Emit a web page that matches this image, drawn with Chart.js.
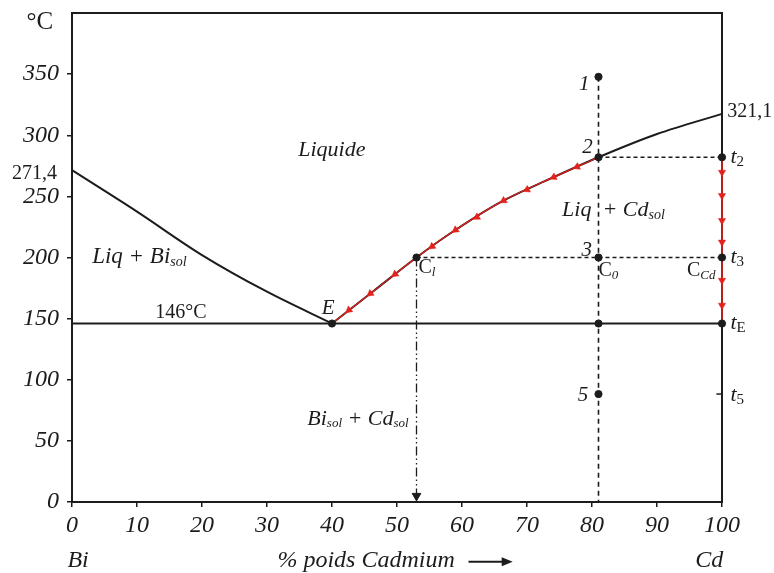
<!DOCTYPE html>
<html><head><meta charset="utf-8">
<script src="https://cdn.jsdelivr.net/npm/chart.js@4/dist/chart.umd.min.js"></script>
<style>html,body{margin:0;padding:0;background:#fff}#wrap{width:774px;height:573px;position:relative}</style>
</head><body><div id="wrap"><canvas id="c"></canvas></div>
<script>
// ---- data (wt% Cd, °C) ----
const xTicks = [0,10,20,30,40,50,60,70,80,90,100];
const yTicks = [0,50,100,150,200,250,300,350];
const leftLiqX = [0,10,20,30,40];
const leftLiqY = [271.4,237.5,202,172,146];
const rightLiqX = [40,46.5,53,58,66,73.6,81,90,100];
const rightLiqY = [146,173,200,219,245.5,264.5,282,301,317.5];
const redPathX = [40,46.5,53,58,66,73.6,81];
const redPathY = [146,173,200,219,245.5,264.5,282];
const eutecticX = [0,100];
const eutecticY = [146,146];
const c0LineX = [81,81];
const c0LineY = [347.8,0];
const t2LineX = [81,100];
const t2LineY = [282,282];
const t3LineX = [53,100];
const t3LineY = [200,200];
const clLineX = [53,53];
const clLineY = [200,0];
const redVertX = [100,100];
const redVertY = [282,146];
const liqArrowX = [77.7,74.1,70.0,66.4,62.3,59.0,55.4,49.7,45.9,42.6];
const liqArrowY = [274.2,265.7,255.5,246.5,233,222.5,209,186.3,170.5,157];
const vertArrowX = [100,100,100,100,100,100];
const vertArrowY = [269.7,250.6,230.2,212.5,181.3,160.9];
const clArrowX = [53];
const clArrowY = [5];
const dotX = [81,81,53,81,100,100,40,81,100,81];
const dotY = [347.8,282,200,200,200,282,146,146,146,88.3];
const t5TickX = [99.6];
const t5TickY = [88.3];

const SERIF = "'Liberation Serif','Times New Roman',serif";
const INK = '#1c1c1c';
const RED = '#e3201b';

const pts = (xs, ys) => xs.map((x, i) => ({x, y: ys[i]}));
function ln(xs, ys, o) {
  return Object.assign({data: pts(xs, ys), showLine: true, pointRadius: 0, borderColor: INK,
    borderWidth: 2, fill: false, clip: false}, o);
}
function arrowRot(ctx) {
  const d = ctx.dataset.data, i = ctx.dataIndex, ch = ctx.chart;
  const xs = ch.scales.x, ys = ch.scales.y;
  let a, b;
  if (i < d.length - 1) { a = d[i]; b = d[i + 1]; } else { a = d[i - 1]; b = d[i]; }
  const dx = xs.getPixelForValue(b.x) - xs.getPixelForValue(a.x);
  const dy = ys.getPixelForValue(b.y) - ys.getPixelForValue(a.y);
  return Math.atan2(dx, -dy) * 180 / Math.PI;
}

const datasets = [
  {data: pts(dotX, dotY), pointRadius: 3.6, pointBackgroundColor: INK, pointBorderColor: INK, showLine: false, order: 0, clip: false},
  {data: pts(liqArrowX, liqArrowY), pointStyle: 'triangle', pointRadius: 4.2, pointBackgroundColor: RED, pointBorderColor: RED, pointBorderWidth: 0.5, pointRotation: arrowRot, showLine: false, order: 1, clip: false},
  {data: pts(vertArrowX, vertArrowY), pointStyle: 'triangle', pointRadius: 4.2, pointBackgroundColor: RED, pointBorderColor: RED, pointBorderWidth: 0.5, pointRotation: 180, showLine: false, order: 1, clip: false},
  {data: pts(clArrowX, clArrowY), pointStyle: 'triangle', pointRadius: 5, pointBackgroundColor: INK, pointBorderColor: INK, pointRotation: 180, showLine: false, order: 1, clip: false},
  {data: pts(t5TickX, t5TickY), pointStyle: 'line', pointRadius: 3, pointBorderColor: INK, pointBorderWidth: 1.5, showLine: false, order: 1, clip: false},
  ln(redPathX, redPathY, {borderColor: RED, borderWidth: 1.2, cubicInterpolationMode: 'monotone', order: 2}),
  ln(redVertX, redVertY, {borderColor: RED, borderWidth: 1.6, order: 2}),
  ln(leftLiqX, leftLiqY, {cubicInterpolationMode: 'monotone', order: 3}),
  ln(rightLiqX, rightLiqY, {cubicInterpolationMode: 'monotone', order: 3}),
  ln(eutecticX, eutecticY, {order: 3}),
  ln(c0LineX, c0LineY, {borderWidth: 1.6, borderDash: [5, 4], order: 4}),
  ln(t2LineX, t2LineY, {borderWidth: 1.4, borderDash: [4, 3], order: 4}),
  ln(t3LineX, t3LineY, {borderWidth: 1.4, borderDash: [4, 3], order: 4}),
  ln(clLineX, clLineY, {borderWidth: 1.3, borderDash: [9, 3, 1.5, 3, 1.5, 3], order: 4})
];

// text: [string, size, italic, subscript]
const labels = [
  {x: -2.9, y: 392, al: 'right', p: [['°C', 25, false]]},
  {x: -2.3, y: 268.6, al: 'right', p: [['271,4', 20, false]]},
  {x: 100.8, y: 319.2, al: 'left', p: [['321,1', 20, false]]},
  {x: 34.8, y: 287.4, al: 'left', p: [['Liquide', 22, true]]},
  {x: 3.1, y: 200.3, al: 'left', p: [['Liq + Bi', 23, true], ['sol', 14, true, true]]},
  {x: 12.8, y: 154.6, al: 'left', p: [['146°C', 20, false]]},
  {x: 39.4, y: 158.2, al: 'center', p: [['E', 21, true]]},
  {x: 53.3, y: 192, al: 'left', p: [['C', 20, false], ['l', 13, true, true]]},
  {x: 78.8, y: 341.3, al: 'center', p: [['1', 21, true]]},
  {x: 79.3, y: 290, al: 'center', p: [['2', 21, true]]},
  {x: 79.2, y: 205.8, al: 'center', p: [['3', 21, true]]},
  {x: 78.6, y: 87.5, al: 'center', p: [['5', 21, true]]},
  {x: 81.0, y: 189.5, al: 'left', p: [['C', 20, false], ['0', 13, true, true]]},
  {x: 99.0, y: 189.5, al: 'right', p: [['C', 20, false], ['Cd', 13, true, true]]},
  {x: 75.4, y: 238.4, al: 'left', p: [['Liq  + Cd', 22, true], ['sol', 14, true, true]]},
  {x: 101.3, y: 282, al: 'left', p: [['t', 22, true], ['2', 15, false, true]]},
  {x: 101.3, y: 200, al: 'left', p: [['t', 22, true], ['3', 15, false, true]]},
  {x: 101.3, y: 146, al: 'left', p: [['t', 22, true], ['E', 15, false, true]]},
  {x: 101.3, y: 87.5, al: 'left', p: [['t', 22, true], ['5', 15, false, true]]},
  {x: 36.2, y: 67.9, al: 'left', p: [['Bi', 22, true], ['sol', 13, true, true], [' + Cd', 22, true], ['sol', 13, true, true]]},
  {x: -0.7, y: -48, al: 'left', p: [['Bi', 24, true]]},
  {x: 31.6, y: -48, al: 'left', p: [['% poids Cadmium', 24, true]]},
  {x: 100.2, y: -48, al: 'right', p: [['Cd', 24, true]]}
];

function fontOf(part) { return (part[2] ? 'italic ' : '') + part[1] + 'px ' + SERIF; }

const textPlugin = {
  id: 'texts',
  afterDraw(chart) {
    const ctx = chart.ctx, xs = chart.scales.x, ys = chart.scales.y;
    ctx.save();
    ctx.fillStyle = INK;
    ctx.textBaseline = 'middle';
    ctx.textAlign = 'left';
    labels.forEach(l => {
      let w = 0;
      l.p.forEach(part => { ctx.font = fontOf(part); w += ctx.measureText(part[0]).width; });
      let px = xs.getPixelForValue(l.x), py = ys.getPixelForValue(l.y);
      if (l.al === 'right') px -= w; else if (l.al === 'center') px -= w / 2;
      l.p.forEach(part => {
        ctx.font = fontOf(part);
        ctx.fillText(part[0], px, part[3] ? py + 5 : py);
        px += ctx.measureText(part[0]).width;
      });
    });
    // axis-title arrow
    const ax0 = xs.getPixelForValue(61), ax1 = xs.getPixelForValue(67.8), ay = ys.getPixelForValue(-48) + 1;
    ctx.strokeStyle = INK; ctx.lineWidth = 2;
    ctx.beginPath(); ctx.moveTo(ax0, ay); ctx.lineTo(ax1 - 8, ay); ctx.stroke();
    ctx.beginPath(); ctx.moveTo(ax1, ay); ctx.lineTo(ax1 - 11, ay - 4.5); ctx.lineTo(ax1 - 11, ay + 4.5); ctx.closePath(); ctx.fill();
    ctx.restore();
  }
};

const zeroPad = s => { s.paddingTop = 0; s.paddingBottom = 0; s.paddingLeft = 0; s.paddingRight = 0; };
const tickFont = {family: SERIF, size: 24, style: 'italic'};
new Chart(document.getElementById('c'), {
  type: 'scatter',
  data: {datasets},
  options: {
    responsive: true, maintainAspectRatio: false, animation: false,
    layout: {padding: {top: 13, right: 52, bottom: 35, left: 0}},
    plugins: {legend: {display: false}, tooltip: {enabled: false}},
    scales: {
      x: {type: 'linear', position: 'bottom', min: 0, max: 100,
        afterBuildTicks: s => { s.ticks = xTicks.map(v => ({value: v})); },
        afterFit: s => { s.height = 36; zeroPad(s); },
        ticks: {font: tickFont, color: INK, padding: 4, maxRotation: 0, autoSkip: false},
        grid: {display: true, drawOnChartArea: false, drawTicks: true, tickLength: 5, color: INK, lineWidth: 1.5},
        border: {display: true, color: INK, width: 2}},
      y: {type: 'linear', position: 'left', min: 0, max: 400,
        afterBuildTicks: s => { s.ticks = yTicks.map(v => ({value: v})); },
        afterFit: s => { s.width = 72; zeroPad(s); },
        ticks: {font: tickFont, color: INK, padding: 8},
        grid: {display: true, drawOnChartArea: false, drawTicks: true, tickLength: 5, color: INK, lineWidth: 1.5},
        border: {display: true, color: INK, width: 2}},
      x2: {type: 'linear', position: 'top', min: 0, max: 100,
        ticks: {display: false}, grid: {display: false},
        border: {display: true, color: INK, width: 2},
        afterFit: s => { s.height = 0; zeroPad(s); }},
      y2: {type: 'linear', position: 'right', min: 0, max: 400,
        ticks: {display: false}, grid: {display: false},
        border: {display: true, color: INK, width: 2},
        afterFit: s => { s.width = 0; zeroPad(s); }}
    }
  },
  plugins: [textPlugin]
});
</script>
</body></html>
